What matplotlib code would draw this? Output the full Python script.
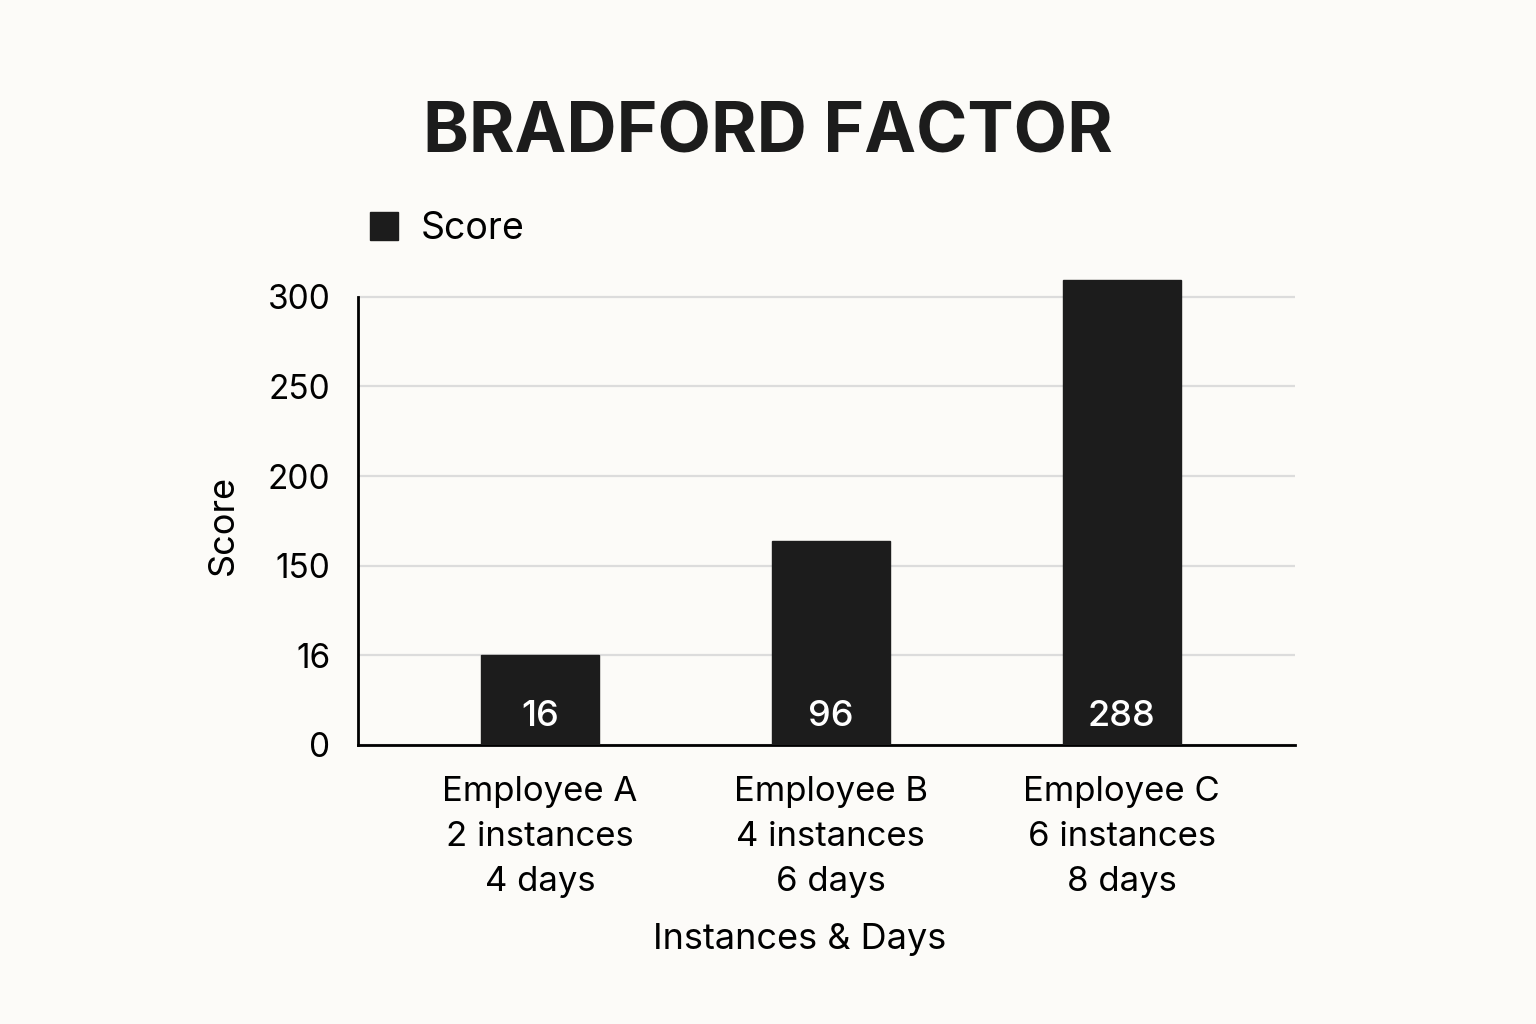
'''
Bradford factor bar chart.
'''
import numpy as np
import matplotlib
matplotlib.use('Agg')
import matplotlib.pyplot as plt

# Data
categories = ['Employee A\n2 instances\n4 days',
              'Employee B\n4 instances\n6 days',
              'Employee C\n6 instances\n8 days']
bar_labels = ['16', '96', '288']
bar_heights = [1.0, 2.28, 5.19]      # heights on the (evenly spaced) tick scale
ytick_labels = ['0', '16', '150', '200', '250', '300']

# Style
bg = '#fcfbf8'
barcol = '#1c1c1c'
plt.rcParams['font.family'] = ['Inter', 'DejaVu Sans']

fig = plt.figure(figsize=[15.36, 10.24], dpi=100, facecolor=bg)
ax = fig.add_axes([0.2331, 0.2725, 0.61, 0.4570], facecolor=bg)

x = np.arange(len(categories))
bars = ax.bar(x, bar_heights, width=0.405, color=barcol, edgecolor=barcol,
              label='Score', zorder=3)

for xi, lab in zip(x, bar_labels):
    ax.text(xi, 0.32, lab, color='white', fontsize=26, fontweight='medium',
            ha='center', va='center', zorder=4)

ax.set_xlim(-0.625, 2.595)
ax.set_ylim(0, 5.22)
ax.set_yticks(np.arange(len(ytick_labels)))
ax.set_yticklabels(ytick_labels, fontsize=24)
ax.set_xticks(x)
ax.set_xticklabels(categories, fontsize=25, linespacing=1.52)
ax.tick_params(length=0)
ax.tick_params(axis='y', pad=20)
ax.tick_params(axis='x', pad=22)

ax.grid(axis='y', color='#dcdcdc', lw=1.6, zorder=0)
for s in ['top', 'right']:
    ax.spines[s].set_visible(False)
ax.spines['left'].set_linewidth(2)
ax.spines['left'].set_bounds(0, 5)
ax.spines['bottom'].set_linewidth(2)

ax.set_ylabel('Score', fontsize=26)
ax.yaxis.set_label_coords((240 - 358) / 937, (745 - 525) / 468)
ax.set_xlabel('Instances & Days', fontsize=26)
ax.xaxis.set_label_coords((800 - 358) / 937, (745 - 940) / 468)
ax.xaxis.label.set_va('center')

fig.text(0.5, 0.869, 'BRADFORD FACTOR', fontsize=50, fontweight='bold',
         ha='center', va='center', color='#1c1c1c')

ax.legend(loc='center left', bbox_to_anchor=(12 / 937, (745 - 229) / 468), frameon=False,
          fontsize=27, handlelength=0.75, handleheight=0.75, handletextpad=0.6,
          borderaxespad=0, borderpad=0)

fig.savefig('out.png', facecolor=bg)
